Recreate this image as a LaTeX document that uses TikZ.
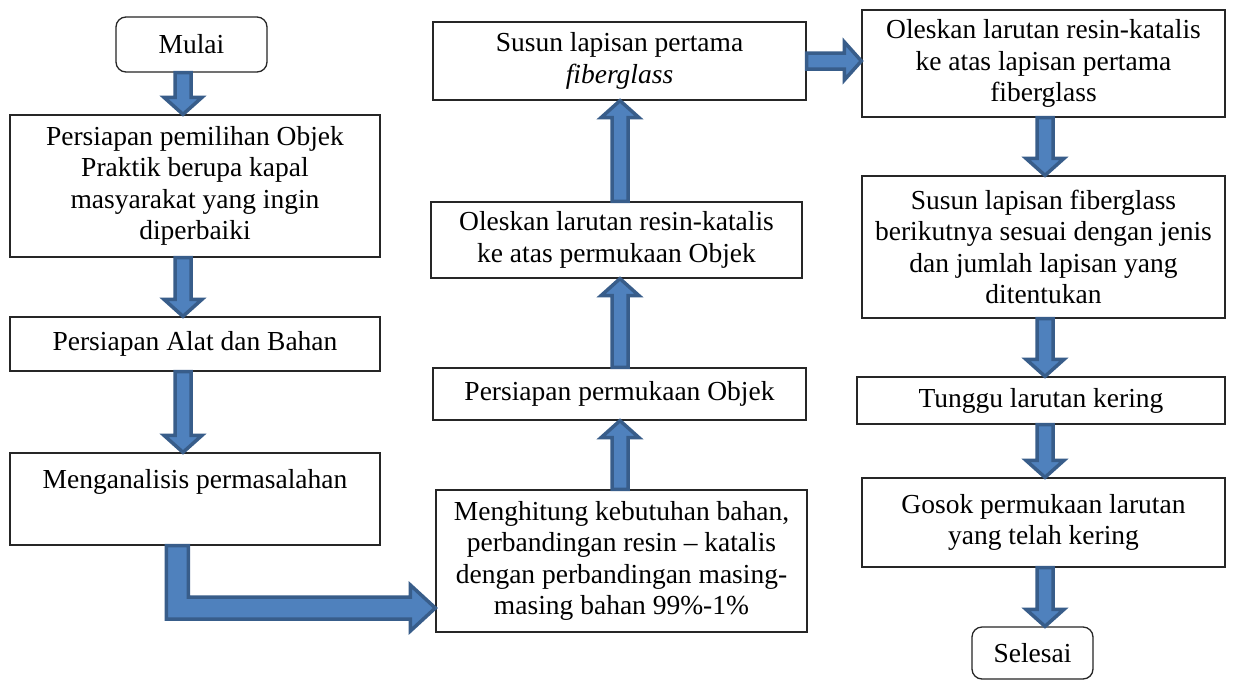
\documentclass[tikz,border=0pt]{standalone}
\usepackage{fontspec}
\setmainfont{Liberation Serif}
\usetikzlibrary{calc}
\definecolor{arrfill}{HTML}{4F81BD}
\definecolor{arrline}{HTML}{385D8A}
\tikzset{
  box/.style={draw=black!85, line width=1.3pt, fill=white, align=center, inner sep=2pt,
    font=\fontsize{27.5}{31.5}\selectfont},
  endbox/.style={box, rounded corners=10pt},
  blockarrow/.style={draw=arrline, fill=arrfill, line width=3.5pt, line join=miter},
}
\newcommand\blk[2]{%
  \coordinate (bS) at (#1);
  \coordinate (bE) at (#2);
  \coordinate (bM) at ($(bE)!17pt!(bS)$);
  \draw[blockarrow] ($(bS)!8pt!90:(bE)$) -- ($(bM)!8pt!90:(bE)$) -- ($(bM)!19pt!90:(bE)$)
    -- (bE) -- ($(bM)!19pt!-90:(bE)$) -- ($(bM)!8pt!-90:(bE)$) -- ($(bS)!8pt!-90:(bE)$) -- cycle;}
\begin{document}
\begin{tikzpicture}[x=1pt,y=-1pt]
\useasboundingbox[fill=white] (0,0) rectangle (1235,681);
\coordinate (xl) at (183,0);
\coordinate (xm) at (620,0);
\coordinate (xr) at (1045,0);
% left column
\node[endbox, minimum width=151, minimum height=55] (start) at (191.5,44.5) {Mulai};
\node[box, minimum width=370, minimum height=142] (b1) at (195,186)
  {Persiapan pemilihan Objek\\Praktik berupa kapal\\masyarakat yang ingin\\diperbaiki};
\node[box, minimum width=370, minimum height=54] (b2) at (195,344) {Persiapan Alat dan Bahan};
\node[box, minimum width=370, minimum height=92] (b3) at (195,499) {Menganalisis permasalahan\\ \strut};
% middle column
\node[box, minimum width=371, minimum height=142] (b4) at (621.5,561)
  {Menghitung kebutuhan bahan,\\perbandingan resin -- katalis\\dengan perbandingan masing-\\masing bahan 99\%-1\%};
\node[box, minimum width=373, minimum height=52] (b5) at (619.5,394) {Persiapan permukaan Objek};
\node[box, minimum width=371, minimum height=76] (b6) at (616.5,240)
  {Oleskan larutan resin-katalis\\ke atas permukaan Objek};
\node[box, minimum width=373, minimum height=78] (b7) at (619.5,61)
  {Susun lapisan pertama\\\textit{fiberglass}};
% right column
\node[box, minimum width=363, minimum height=107] (b8) at (1043.5,63.5)
  {Oleskan larutan resin-katalis\\ke atas lapisan pertama\\fiberglass};
\node[box, minimum width=363, minimum height=142] (b9) at (1043.5,247)
  {Susun lapisan fiberglass\\berikutnya sesuai dengan jenis\\dan jumlah lapisan yang\\ditentukan};
\node[box, minimum width=368, minimum height=47] (b10) at (1041,400.5) {Tunggu larutan kering};
\node[box, minimum width=363, minimum height=89] (b11) at (1043.5,522.5)
  {Gosok permukaan larutan\\yang telah kering};
\node[endbox, minimum width=121, minimum height=52] (end) at (1032.5,653) {Selesai};
% arrows
\blk{start.south -| xl}{b1.north -| xl}
\blk{b1.south -| xl}{b2.north -| xl}
\blk{b2.south -| xl}{b3.north -| xl}
\blk{b4.north -| xm}{b5.south -| xm}
\blk{b5.north -| xm}{b6.south -| xm}
\blk{b6.north -| xm}{b7.south -| xm}
\blk{b7.east}{b7.east -| b8.west}
\blk{b8.south -| xr}{b9.north -| xr}
\blk{b9.south -| xr}{b10.north -| xr}
\blk{b10.south -| xr}{b11.north -| xr}
\blk{b11.south -| xr}{end.north -| xr}
% L-shaped arrow
\coordinate (Ls) at ($(b3.south west)+(168,0)$);
\coordinate (Le) at (b4.west |- 0,608);
\coordinate (Lc) at (Ls |- Le);
\draw[blockarrow] ($(Ls)+(-11,0)$) -- ($(Ls)+(11,0)$) -- ($(Lc)+(11,-11)$) -- ($(Le)+(-25,-11)$)
  -- ($(Le)+(-25,-23)$) -- (Le) -- ($(Le)+(-25,23)$) -- ($(Le)+(-25,11)$) -- ($(Lc)+(-11,11)$) -- cycle;
\end{tikzpicture}
\end{document}
